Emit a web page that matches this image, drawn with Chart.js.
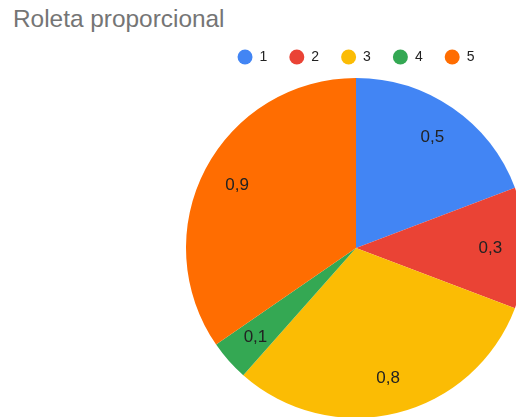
<!DOCTYPE html>
<html>
<head>
<meta charset="utf-8">
<script src="https://cdn.jsdelivr.net/npm/chart.js@4.4.1/dist/chart.umd.min.js"></script>
<style>
  html, body { margin: 0; padding: 0; background: #fff; overflow: hidden; width: 516px; height: 417px; }
  #titulo {
    position: absolute; left: 13px; top: 5px;
    font-family: "Liberation Sans", Arial, sans-serif; font-size: 24.4px; color: #757575;
    white-space: nowrap;
  }
  #wrap { position: absolute; left: 0; top: 0; }
</style>
</head>
<body>
<div id="titulo">Roleta proporcional</div>
<div id="wrap"><canvas id="roleta" width="560" height="440"></canvas></div>
<script>
// fatias da roleta
const categorias = ["1", "2", "3", "4", "5"];
const valores = [0.5, 0.3, 0.8, 0.1, 0.9];
const cores = ["#4285F4", "#EA4335", "#FBBC04", "#34A853", "#FF6D01"];

const fonte = '"Liberation Sans", Arial, sans-serif';

// escreve o valor dentro de cada fatia
const rotulos = {
  id: "rotulos",
  afterDatasetsDraw(chart) {
    const ctx = chart.ctx;
    const meta = chart.getDatasetMeta(0);
    ctx.save();
    ctx.font = "17px " + fonte;
    ctx.fillStyle = "#222";
    ctx.textAlign = "center";
    ctx.textBaseline = "middle";
    meta.data.forEach((arc, i) => {
      const p = arc.getProps(["x", "y", "startAngle", "endAngle", "outerRadius"], true);
      const meio = (p.startAngle + p.endAngle) / 2;
      const r = p.outerRadius * 0.79;
      const txt = String(valores[i]).replace(".", ",");
      ctx.fillText(txt, p.x + Math.cos(meio) * r, p.y + Math.sin(meio) * r);
    });
    ctx.restore();
  }
};

new Chart(document.getElementById("roleta"), {
  type: "pie",
  data: {
    labels: categorias,
    datasets: [{
      data: valores,
      backgroundColor: cores,
      borderWidth: 0
    }]
  },
  options: {
    responsive: false,
    devicePixelRatio: 1,
    animation: false,
    layout: { padding: { left: 186, right: 34, top: 28, bottom: 18 } },
    plugins: {
      legend: {
        position: "top",
        labels: {
          usePointStyle: true,
          pointStyle: "circle",
          pointStyleWidth: 15,
          boxHeight: 10.6,
          padding: 22,
          color: "#222",
          font: { family: fonte, size: 14 }
        }
      },
      tooltip: { enabled: false }
    }
  },
  plugins: [rotulos]
});
</script>
</body>
</html>
